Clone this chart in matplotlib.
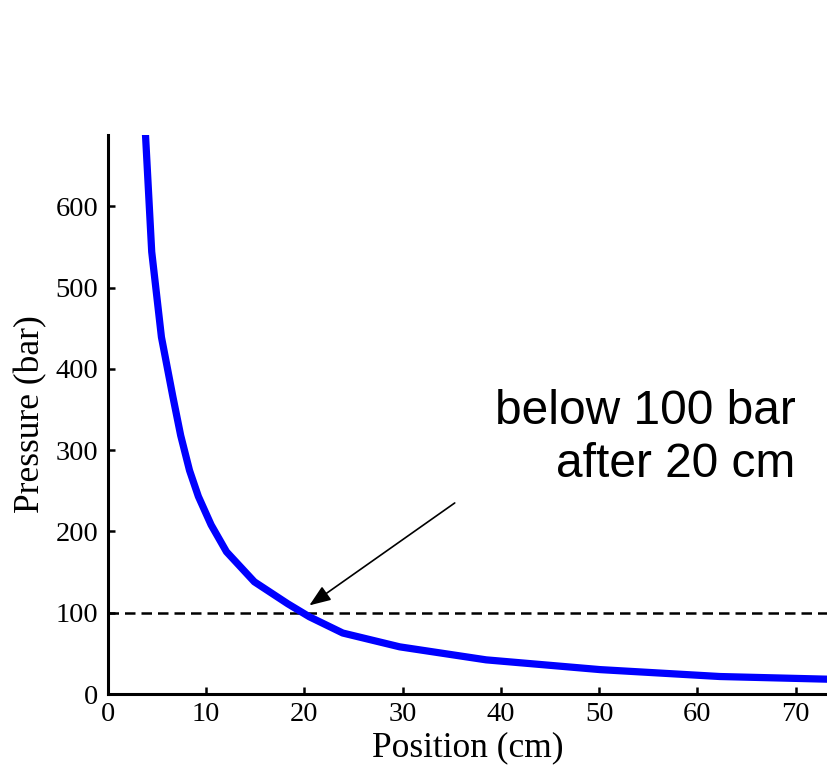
import matplotlib
matplotlib.use("Agg")
import matplotlib.pyplot as plt

# Data
position = [3.5, 4.45, 5.44, 6.6, 7.4, 8.3, 9.2, 10.5, 12.06, 14.9, 18.3, 20.5, 23.9, 29.7, 38.5, 50.1, 62.3, 74.0]
pressure = [760, 544, 439, 366, 318, 275, 243, 208, 175, 138, 111, 95, 75, 58, 42, 30, 21.5, 18]
threshold = 100
xticks = [0, 10, 20, 30, 40, 50, 60, 70]
yticks = [0, 100, 200, 300, 400, 500, 600]
annot_text = "below 100 bar\nafter 20 cm"
arrow_tip = (20.5, 109)
arrow_tail = (35.3, 235)

fig = plt.figure(figsize=(8.28, 7.72), dpi=100)
ax = fig.add_axes([108 / 828, 78 / 772, 720 / 828, 559 / 772])

ax.plot(position, pressure, color=(0, 0, 1), lw=5.2, solid_joinstyle="round", zorder=3)
ax.axhline(threshold, color="black", lw=1.8, dashes=(4.2, 2.4), zorder=2)

ax.set_xlim(0, 73.3)
ax.set_ylim(0, 687.6)
ax.set_xticks(xticks)
ax.set_yticks(yticks)

serif = "Liberation Serif"
ax.set_xticklabels([str(t) for t in xticks], family=serif, fontsize=20.5)
ax.set_yticklabels([str(t) for t in yticks], family=serif, fontsize=20.5)
ax.tick_params(direction="in", length=5, width=1.8, pad=6)
ax.tick_params(axis="y", pad=7)

for s in ["top", "right"]:
    ax.spines[s].set_visible(False)
for s in ["left", "bottom"]:
    ax.spines[s].set_linewidth(2.2)

ax.set_xlabel("Position (cm)", family=serif, fontsize=25.5, labelpad=3)
ax.set_ylabel("Pressure (bar)", family=serif, fontsize=25.5, labelpad=6)

ax.annotate("", xy=arrow_tip, xytext=arrow_tail,
            arrowprops=dict(arrowstyle="-|>,head_length=1.3,head_width=0.5",
                            color="black", lw=1.2, shrinkA=0, shrinkB=0), zorder=4)
ax.text(70, 315, annot_text, family="Liberation Sans", fontsize=34.5,
        ha="right", va="center", multialignment="right", linespacing=1.25)

fig.savefig("out.png", dpi=100)
